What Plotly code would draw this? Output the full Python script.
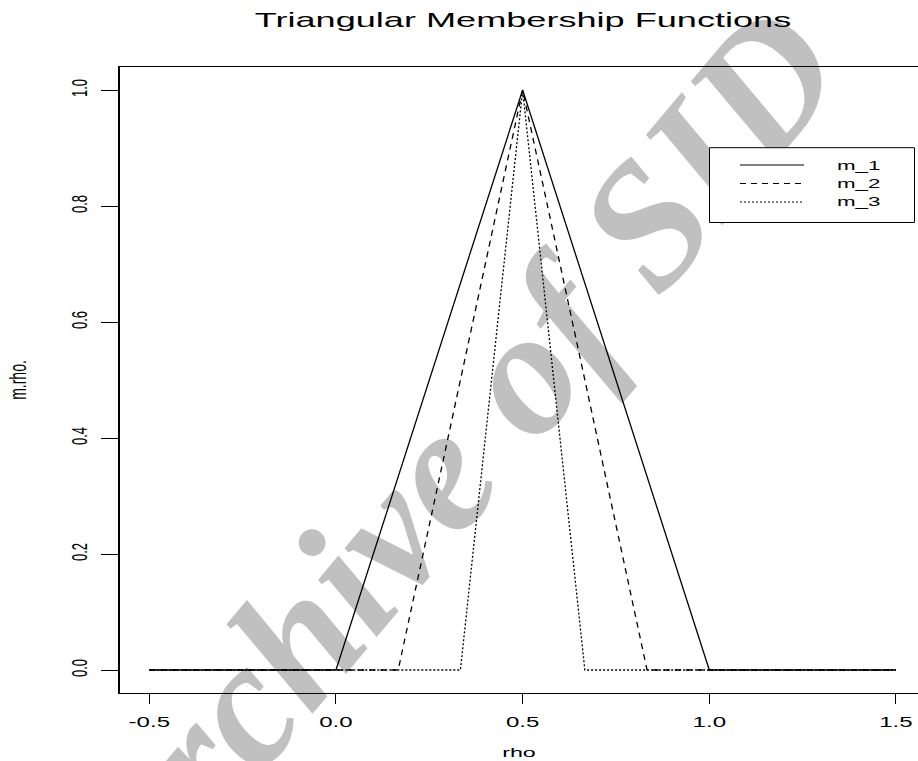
import plotly.graph_objects as go

# ---------------- data ----------------
series_names = ["m_1", "m_2", "m_3"]
rho_m1 = [-0.5, 0.0, 0.5, 1.0, 1.5]
mu_m1 = [0.0, 0.0, 1.0, 0.0, 0.0]
rho_m2 = [-0.5, 1 / 6, 0.5, 5 / 6, 1.5]
mu_m2 = [0.0, 0.0, 1.0, 0.0, 0.0]
rho_m3 = [-0.5, 1 / 3, 0.5, 2 / 3, 1.5]
mu_m3 = [0.0, 0.0, 1.0, 0.0, 0.0]

x_tick_vals = [-0.5, 0.0, 0.5, 1.0, 1.5]
x_tick_text = ["-0.5", "0.0", "0.5", "1.0", "1.5"]
y_tick_vals = [0.0, 0.2, 0.4, 0.6, 0.8, 1.0]
y_tick_text = ["0.0", "0.2", "0.4", "0.6", "0.8", "1.0"]

title_text = "Triangular Membership Functions"
x_title = "rho"
y_title = "m.rho."
watermark = "Archive of SID"

# ---------------- styles ----------------
W, H = 918, 761
ML, MR, MT, MB = 120, 0, 67, 68
FONT = "Liberation Sans, Arial, Helvetica, sans-serif"
dashes = ["solid", "6px,5px", "2px,2px"]

xs = [rho_m1, rho_m2, rho_m3]
ys = [mu_m1, mu_m2, mu_m3]

fig = go.Figure()
for name, x, y, d in zip(series_names, xs, ys, dashes):
    fig.add_trace(go.Scatter(x=x, y=y, mode="lines", name=name,
                             line=dict(color="black", width=1.3, dash=d),
                             showlegend=False, hoverinfo="skip"))

pw = W - ML - MR
ph = H - MT - MB


def px_x(p):
    return (p - ML) / pw


def px_y(p):
    return (H - MB - p) / ph


# manual R-style legend box
shapes = [dict(type="rect", xref="paper", yref="paper",
               x0=px_x(709.5), x1=px_x(914.5), y0=px_y(222.5), y1=px_y(147.7),
               line=dict(color="black", width=1), fillcolor="white", layer="above")]
annotations = []
row_y = [165, 183.5, 202]
for name, d, ry in zip(series_names, dashes, row_y):
    shapes.append(dict(type="line", xref="paper", yref="paper",
                       x0=px_x(740), x1=px_x(804), y0=px_y(ry), y1=px_y(ry),
                       line=dict(color="black", width=1, dash=d), layer="above"))
    annotations.append(dict(xref="paper", yref="paper", x=px_x(858), y=px_y(ry),
                            text=name, showarrow=False, xanchor="center", yanchor="middle",
                            font=dict(family=FONT, size=13, color="black")))

# watermark text (below the curves)
shapes.append(dict(type="rect", xref="paper", yref="paper",
                   x0=px_x(433), x1=px_x(435), y0=px_y(447), y1=px_y(445),
                   line=dict(width=0), fillcolor="rgba(0,0,0,0)", layer="below",
                   label=dict(text=watermark, textangle=-50, textposition="middle center",
                              font=dict(family="Liberation Serif, DejaVu Serif, serif",
                                        size=178, color="#c0c0c0",
                                        weight="bold", style="italic"))))

fig.update_layout(
    width=W, height=H,
    margin=dict(l=ML, r=MR, t=MT, b=MB, autoexpand=False),
    paper_bgcolor="white", plot_bgcolor="white",
    font=dict(family=FONT, color="black"),
    title=dict(text=title_text, x=523 / W, xanchor="center", xref="container",
               y=1 - 20 / H, yanchor="middle", yref="container",
               font=dict(family=FONT, size=21, color="black")),
    shapes=shapes, annotations=annotations,
    xaxis=dict(range=[-0.5785, 1.5590], tickmode="array", tickvals=x_tick_vals,
               ticktext=x_tick_text, ticks="outside", ticklen=10, tickwidth=1,
               tickcolor="black", showline=True, mirror=True, linecolor="black",
               linewidth=1, showgrid=False, zeroline=False, ticklabelstandoff=6,
               tickfont=dict(family=FONT, size=14, color="black"),
               title=dict(text=x_title, standoff=18,
                          font=dict(family=FONT, size=13.5, color="black")),
               automargin=False),
    yaxis=dict(range=[-0.03966, 1.03966], tickmode="array", tickvals=y_tick_vals,
               ticktext=y_tick_text, ticks="outside", ticklen=17, tickwidth=1,
               tickcolor="black", tickangle=-90, showline=True, mirror=False,
               linecolor="black", linewidth=1.5, showgrid=False, zeroline=False,
               ticklabelstandoff=12,
               tickfont=dict(family=FONT, size=13, color="black"),
               title=dict(text=y_title, standoff=46,
                          font=dict(family=FONT, size=14, color="black")),
               automargin=False),
)

# page without body margin; horizontally widen texts, as in the reference picture
stretch_js = """
document.documentElement.style.margin = '0';
document.body.style.margin = '0';
document.body.style.padding = '0';
document.body.style.overflow = 'hidden';
var gd = document.getElementById('{plot_id}');
var S = 1.72;
function widen(sel, rotated, off){
  gd.querySelectorAll(sel).forEach(function(t){
    var x = parseFloat(t.getAttribute('x')) || 0;
    var y = parseFloat(t.getAttribute('y')) || 0;
    var tr = t.getAttribute('transform') || '';
    if (rotated) {
      var cy = y - off;
      t.setAttribute('transform', tr + ' translate(' + x + ',' + cy + ') scale(1,' + S + ') translate(' + (-x) + ',' + (-cy) + ')');
    } else {
      t.setAttribute('transform', tr + ' translate(' + x + ',' + y + ') scale(' + S + ',1) translate(' + (-x) + ',' + (-y) + ')');
    }
  });
}
widen('text.gtitle, g.xtick text, text.xtitle, text.annotation-text', false, 0);
widen('g.ytick text', true, 4.5);
widen('text.ytitle', true, 4.9);
"""

fig.write_html("out.html", post_script=stretch_js, config={"displayModeBar": False})
